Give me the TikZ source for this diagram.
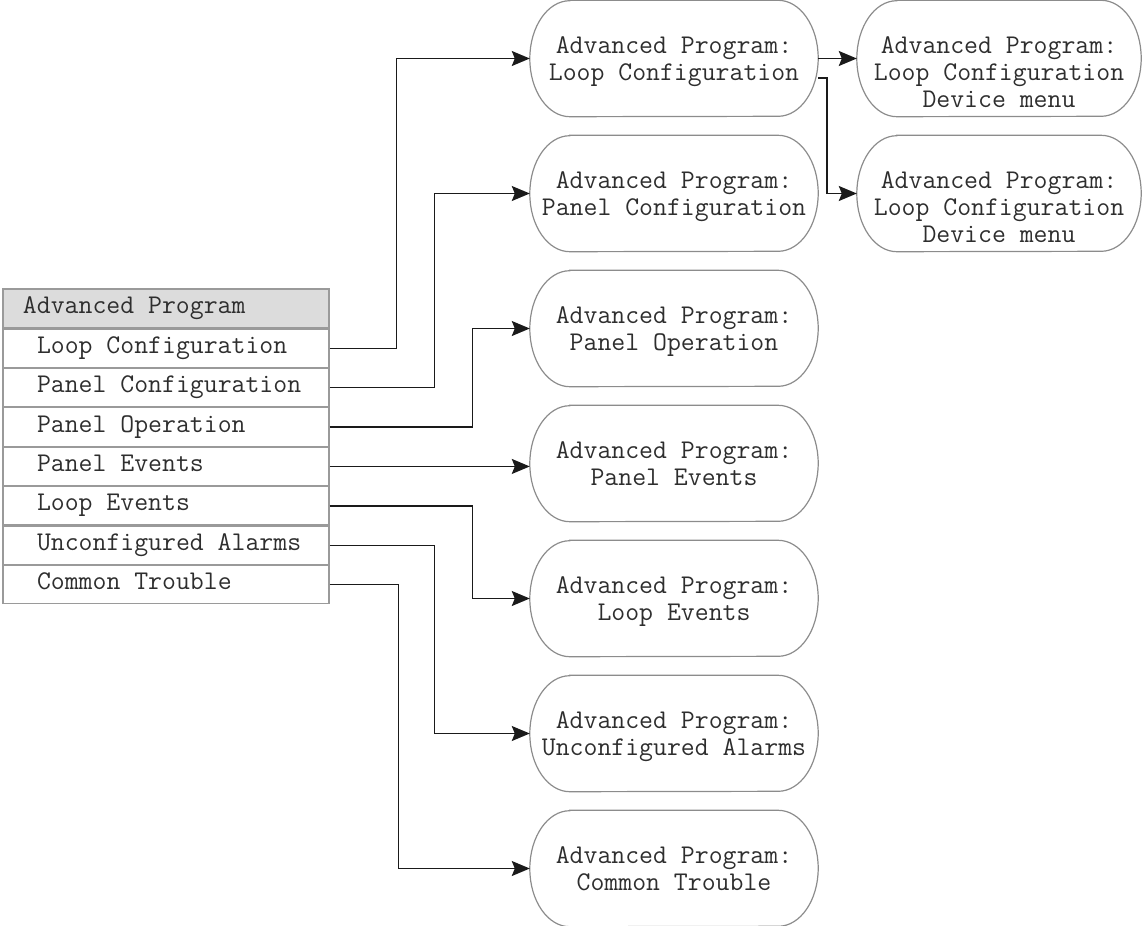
\documentclass[tikz,border=0pt]{standalone}
\usepackage{fontspec}
\usetikzlibrary{arrows.meta}
\definecolor{txt}{HTML}{2E2E2E}
\definecolor{pillline}{HTML}{8C8C8C}
\definecolor{tabline}{HTML}{9A9A9A}
\definecolor{headfill}{HTML}{DCDCDC}
\definecolor{conncol}{HTML}{1A1A1A}
\tikzset{
  pill/.style={rectangle, draw=none, minimum width=288pt, minimum height=116pt, inner sep=0pt,
    align=center, text=txt, font=\ttfamily\fontsize{27}{27}\selectfont,
    text height=47pt, text depth=3pt},
  devpill/.style={pill, minimum width=284pt, text height=101pt, text depth=3pt},
  pillborder/.style={draw=pillline, line width=1.2pt},
  tabrow/.style={rectangle, draw=tabline, line width=1.1pt, minimum width=326pt, minimum height=38.3pt,
    inner sep=0pt, text=txt, font=\ttfamily\fontsize{27}{27}\selectfont,
    text height=15pt, text depth=5pt},
  tabhead/.style={tabrow, fill=headfill, minimum height=39pt},
  conn/.style={draw=conncol, line width=1.5pt, -{Stealth[length=18pt,width=15pt,inset=3pt]}}
}
\begin{document}
\begin{tikzpicture}[x=1pt,y=1pt]
\useasboundingbox (0,0) rectangle (1143,-926);
% table
\node[tabhead] (h) at (166,-308.5) {\makebox[326pt][l]{\hspace{20pt}Advanced Program}};
\node[tabrow, anchor=north] (r1) at (h.south) {\makebox[326pt][l]{\hspace{34pt}Loop Configuration}};
\node[tabrow, anchor=north] (r2) at (r1.south) {\makebox[326pt][l]{\hspace{34pt}Panel Configuration}};
\node[tabrow, anchor=north] (r3) at (r2.south) {\makebox[326pt][l]{\hspace{34pt}Panel Operation}};
\node[tabrow, anchor=north] (r4) at (r3.south) {\makebox[326pt][l]{\hspace{34pt}Panel Events}};
\node[tabrow, anchor=north] (r5) at (r4.south) {\makebox[326pt][l]{\hspace{34pt}Loop Events}};
\node[tabrow, anchor=north] (r6) at (r5.south) {\makebox[326pt][l]{\hspace{34pt}Unconfigured Alarms}};
\node[tabrow, anchor=north] (r7) at (r6.south) {\makebox[326pt][l]{\hspace{34pt}Common Trouble}};
% pills
\node[pill] (p1) at (674,-58.5) {Advanced Program:\\Loop Configuration};
\node[pill] (p2) at (674,-193.5) {Advanced Program:\\Panel Configuration};
\node[pill] (p3) at (674,-328.5) {Advanced Program:\\Panel Operation};
\node[pill] (p4) at (674,-463.5) {Advanced Program:\\Panel Events};
\node[pill] (p5) at (674,-598.5) {Advanced Program:\\Loop Events};
\node[pill] (p6) at (674,-733.5) {Advanced Program:\\Unconfigured Alarms};
\node[pill] (p7) at (674,-868.5) {Advanced Program:\\Common Trouble};
\node[devpill] (d1) at (999,-58.5) {Advanced Program:\\Loop Configuration\\Device menu};
\node[devpill] (d2) at (999,-193.5) {Advanced Program:\\Loop Configuration\\Device menu};
% pill outlines
\foreach \n in {p1,p2,p3,p4,p5,p6,p7,d1,d2}{
  \draw[pillborder] ([xshift=40pt]\n.north west) -- ([xshift=-40pt]\n.north east)
    arc[start angle=90, end angle=-90, x radius=40pt, y radius=58pt]
    -- ([xshift=40pt]\n.south west)
    arc[start angle=270, end angle=90, x radius=40pt, y radius=58pt] -- cycle;
}
% connectors
\draw[conn] (r1.east) -- ++(67,0) |- (p1.west);
\draw[conn] (r2.east) -- ++(105,0) |- (p2.west);
\draw[conn] (r3.east) -- ++(143,0) |- (p3.west);
\draw[conn] (r4.east) -- (r4.east -| p4.west);
\draw[conn] (r5.east) -- ++(143,0) |- (p5.west);
\draw[conn] (r6.east) -- ++(105,0) |- (p6.west);
\draw[conn] (r7.east) -- ++(69,0) |- (p7.west);
\draw[conn] (p1.east) -- (d1.west);
\coordinate (c1) at ([yshift=-19.5pt]p1.east);
\draw[conn] (c1) -- ++(9,0) |- (d2.west);
\end{tikzpicture}
\end{document}
